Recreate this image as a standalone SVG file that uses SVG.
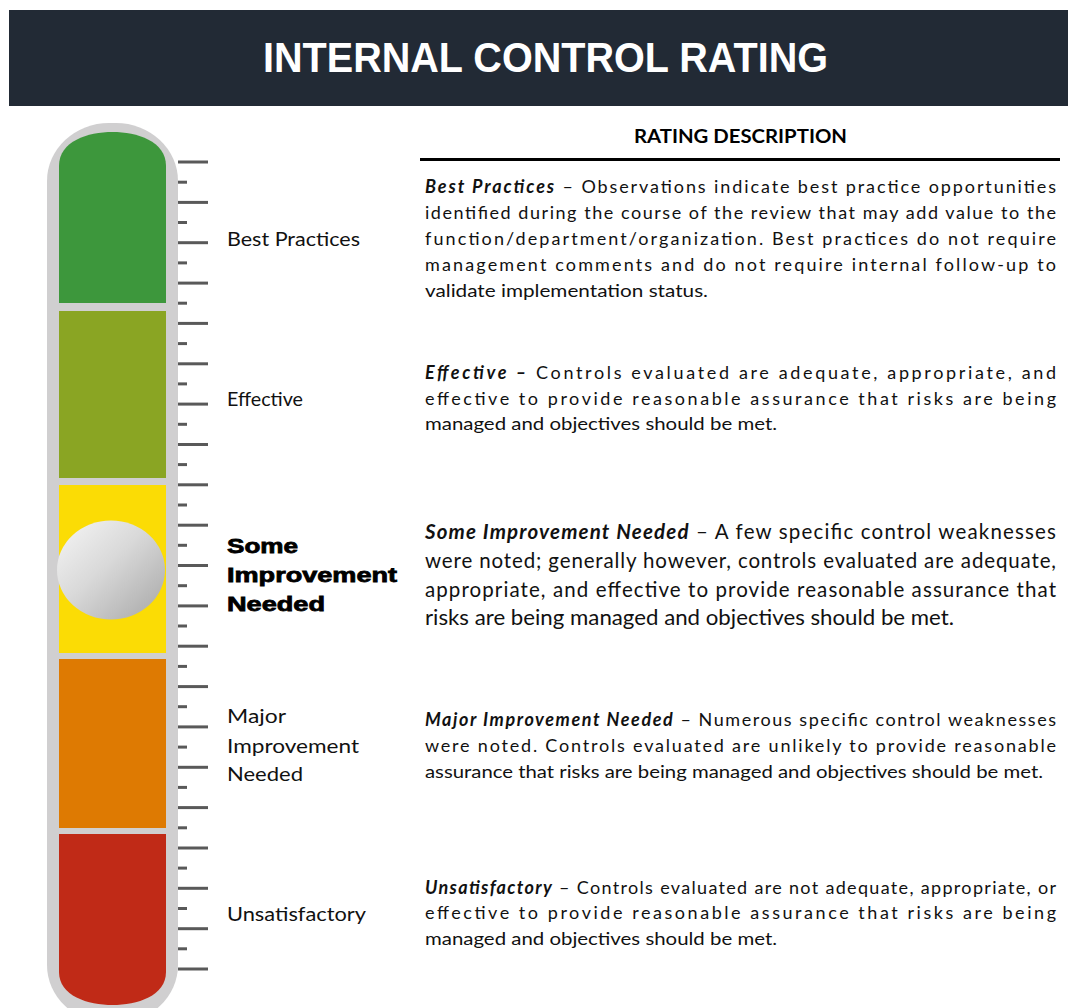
<svg xmlns="http://www.w3.org/2000/svg" width="1068" height="1008" viewBox="0 0 1068 1008">
<defs>
<linearGradient id="ballGrad" x1="0" y1="0" x2="1" y2="1">
<stop offset="0" stop-color="#f6f6f6"/>
<stop offset="0.45" stop-color="#d9d9d9"/>
<stop offset="1" stop-color="#a6a6a6"/>
</linearGradient>
<style>
.lbl{font-family:Lato,"Open Sans",sans-serif;font-size:19.5px;fill:#111}
.lblb{font-family:"Liberation Sans",Arial,sans-serif;font-size:21px;font-weight:bold;fill:#000;stroke:#000;stroke-width:0.8}
.desc{font-family:Lato,"Open Sans",sans-serif;font-size:18px;fill:#111}
.descL{font-family:Lato,"Open Sans",sans-serif;font-size:20.5px;fill:#111}
.bi{font-weight:bold;font-style:italic}
.tick{stroke:#595959;stroke-width:3}
</style>
</defs>
<rect width="1068" height="1008" fill="#ffffff"/>
<g id="header">
<rect x="9" y="10" width="1059" height="96" fill="#222a35"/>
<text x="263" y="72" textLength="565" lengthAdjust="spacingAndGlyphs" font-family="'Liberation Sans',Arial,sans-serif" font-size="42" font-weight="bold" fill="#ffffff">INTERNAL CONTROL RATING</text>
</g>
<g id="thermometer">
<rect x="47" y="123" width="131" height="900" rx="62" ry="58" fill="#d0cfd0"/>
<path d="M59,303 L59,166 C59,141 88,132 112.5,132 C137,132 166,141 166,166 L166,303 Z" fill="#3d973c"/>
<rect x="59" y="311" width="107" height="167" fill="#8aa523"/>
<rect x="59" y="485" width="107" height="168" fill="#fbdc05"/>
<rect x="59" y="659" width="107" height="169" fill="#de7a02"/>
<path d="M59,834 L166,834 L166,972 C166,996 137,1005 112.5,1005 C88,1005 59,996 59,972 Z" fill="#c02a17"/>
<ellipse cx="111" cy="570" rx="54" ry="49.5" fill="url(#ballGrad)"/>
</g>
<g id="ticks">
<line class="tick" x1="178" y1="162" x2="208" y2="162"/>
<line class="tick" x1="178" y1="182.2" x2="187" y2="182.2"/>
<line class="tick" x1="178" y1="202.4" x2="208" y2="202.4"/>
<line class="tick" x1="178" y1="222.5" x2="187" y2="222.5"/>
<line class="tick" x1="178" y1="242.7" x2="208" y2="242.7"/>
<line class="tick" x1="178" y1="262.9" x2="187" y2="262.9"/>
<line class="tick" x1="178" y1="283.1" x2="208" y2="283.1"/>
<line class="tick" x1="178" y1="303.2" x2="187" y2="303.2"/>
<line class="tick" x1="178" y1="323.4" x2="208" y2="323.4"/>
<line class="tick" x1="178" y1="343.6" x2="187" y2="343.6"/>
<line class="tick" x1="178" y1="363.8" x2="208" y2="363.8"/>
<line class="tick" x1="178" y1="383.9" x2="187" y2="383.9"/>
<line class="tick" x1="178" y1="404.1" x2="208" y2="404.1"/>
<line class="tick" x1="178" y1="424.3" x2="187" y2="424.3"/>
<line class="tick" x1="178" y1="444.5" x2="208" y2="444.5"/>
<line class="tick" x1="178" y1="464.6" x2="187" y2="464.6"/>
<line class="tick" x1="178" y1="484.8" x2="208" y2="484.8"/>
<line class="tick" x1="178" y1="505" x2="187" y2="505"/>
<line class="tick" x1="178" y1="525.2" x2="208" y2="525.2"/>
<line class="tick" x1="178" y1="545.3" x2="187" y2="545.3"/>
<line class="tick" x1="178" y1="565.5" x2="208" y2="565.5"/>
<line class="tick" x1="178" y1="585.7" x2="187" y2="585.7"/>
<line class="tick" x1="178" y1="605.9" x2="208" y2="605.9"/>
<line class="tick" x1="178" y1="626" x2="187" y2="626"/>
<line class="tick" x1="178" y1="646.2" x2="208" y2="646.2"/>
<line class="tick" x1="178" y1="666.4" x2="187" y2="666.4"/>
<line class="tick" x1="178" y1="686.6" x2="208" y2="686.6"/>
<line class="tick" x1="178" y1="706.7" x2="187" y2="706.7"/>
<line class="tick" x1="178" y1="726.9" x2="208" y2="726.9"/>
<line class="tick" x1="178" y1="747.1" x2="187" y2="747.1"/>
<line class="tick" x1="178" y1="767.3" x2="208" y2="767.3"/>
<line class="tick" x1="178" y1="787.4" x2="187" y2="787.4"/>
<line class="tick" x1="178" y1="807.6" x2="208" y2="807.6"/>
<line class="tick" x1="178" y1="827.8" x2="187" y2="827.8"/>
<line class="tick" x1="178" y1="848" x2="208" y2="848"/>
<line class="tick" x1="178" y1="868.1" x2="187" y2="868.1"/>
<line class="tick" x1="178" y1="888.3" x2="208" y2="888.3"/>
<line class="tick" x1="178" y1="908.5" x2="187" y2="908.5"/>
<line class="tick" x1="178" y1="928.7" x2="208" y2="928.7"/>
<line class="tick" x1="178" y1="948.8" x2="187" y2="948.8"/>
<line class="tick" x1="178" y1="969" x2="208" y2="969"/>
</g>
<g id="labels">
<text class="lbl" x="227" y="246" textLength="133" lengthAdjust="spacingAndGlyphs">Best Practices</text>
<text class="lbl" x="227" y="406" textLength="76" lengthAdjust="spacingAndGlyphs">Effective</text>
<text class="lblb" x="227" y="553" textLength="71" lengthAdjust="spacingAndGlyphs">Some</text>
<text class="lblb" x="227" y="582" textLength="170" lengthAdjust="spacingAndGlyphs">Improvement</text>
<text class="lblb" x="227" y="611" textLength="98" lengthAdjust="spacingAndGlyphs">Needed</text>
<text class="lbl" x="227" y="723" textLength="59" lengthAdjust="spacingAndGlyphs">Major</text>
<text class="lbl" x="227" y="753" textLength="132" lengthAdjust="spacingAndGlyphs">Improvement</text>
<text class="lbl" x="227" y="781" textLength="76" lengthAdjust="spacingAndGlyphs">Needed</text>
<text class="lbl" x="227" y="921" textLength="139" lengthAdjust="spacingAndGlyphs">Unsatisfactory</text>
</g>
<g id="descriptions">
<text x="634" y="143" textLength="213" lengthAdjust="spacingAndGlyphs" font-family="Lato,'Open Sans',sans-serif" font-size="18" font-weight="bold" fill="#000">RATING DESCRIPTION</text>
<line x1="420" y1="159.5" x2="1060" y2="159.5" stroke="#000" stroke-width="3"/>
<g id="desc-best">
<text class="desc" x="425" y="193" textLength="631"><tspan class="bi">Best Practices</tspan> – Observations indicate best practice opportunities</text>
<text class="desc" x="425" y="219" textLength="631">identified during the course of the review that may add value to the</text>
<text class="desc" x="425" y="245" textLength="631">function/department/organization. Best practices do not require</text>
<text class="desc" x="425" y="271" textLength="631">management comments and do not require internal follow-up to</text>
<text class="desc" x="425" y="297" textLength="283" lengthAdjust="spacingAndGlyphs">validate implementation status.</text>
</g>
<g id="desc-effective">
<text class="desc" x="425" y="379" textLength="631"><tspan class="bi">Effective –</tspan> Controls evaluated are adequate, appropriate, and</text>
<text class="desc" x="425" y="405" textLength="631">effective to provide reasonable assurance that risks are being</text>
<text class="desc" x="425" y="430" textLength="352" lengthAdjust="spacingAndGlyphs">managed and objectives should be met.</text>
</g>
<g id="desc-some">
<text class="descL" x="425" y="539" textLength="631"><tspan class="bi">Some Improvement Needed</tspan> – A few specific control weaknesses</text>
<text class="descL" x="425" y="568" textLength="631">were noted; generally however, controls evaluated are adequate,</text>
<text class="descL" x="425" y="597" textLength="631">appropriate, and effective to provide reasonable assurance that</text>
<text class="descL" x="425" y="625" textLength="529" lengthAdjust="spacingAndGlyphs">risks are being managed and objectives should be met.</text>
</g>
<g id="desc-major">
<text class="desc" x="425" y="726" textLength="631"><tspan class="bi">Major Improvement Needed</tspan> – Numerous specific control weaknesses</text>
<text class="desc" x="425" y="752" textLength="631">were noted. Controls evaluated are unlikely to provide reasonable</text>
<text class="desc" x="425" y="778" textLength="618" lengthAdjust="spacingAndGlyphs">assurance that risks are being managed and objectives should be met.</text>
</g>
<g id="desc-unsat">
<text class="desc" x="425" y="894" textLength="631"><tspan class="bi">Unsatisfactory</tspan> – Controls evaluated are not adequate, appropriate, or</text>
<text class="desc" x="425" y="919" textLength="631">effective to provide reasonable assurance that risks are being</text>
<text class="desc" x="425" y="945" textLength="352" lengthAdjust="spacingAndGlyphs">managed and objectives should be met.</text>
</g>
</g>
</svg>
